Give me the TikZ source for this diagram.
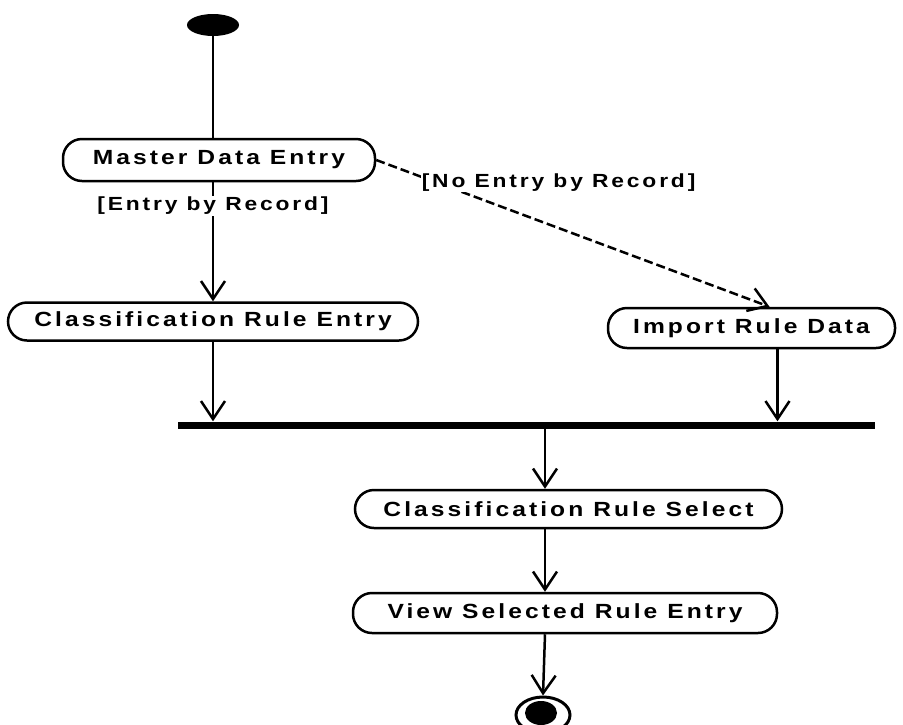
\documentclass[tikz,border=0pt]{standalone}
\usepackage{fontspec}
\newfontfamily\umlfont[FakeStretch=1.2,LetterSpace=15]{Liberation Sans}
\usetikzlibrary{arrows.meta,shapes.geometric}

\tikzset{
	action/.style={draw, line width=2.5pt, rounded corners=19pt, minimum height=40pt, inner sep=0pt, font=\umlfont\bfseries\fontsize{20.5}{24}\selectfont},
	guard/.style={font=\umlfont\bfseries\fontsize{19}{22}\selectfont, inner sep=1pt, fill=white},
	flow/.style={line width=2.5pt, -{Straight Barb[length=18pt,width=24pt]}},
}

\begin{document}
\begin{tikzpicture}[x=1pt, y=-1pt]
			%%%%% START %%%%%
			\useasboundingbox (0, 0) rectangle (903, 724);
			
			\node[ellipse, fill=black, minimum width=52pt, minimum height=22pt, inner sep=0pt] (start) at (213, 25) {};
			
			\node[action, minimum width=312pt, minimum height=42pt] (master) at (219, 160) {Master Data Entry};
			\node[action, minimum width=410pt, minimum height=38pt] (entry) at (213, 321.5) {Classification Rule Entry};
			\node[action, minimum width=287pt] (import) at (751.5, 328) {Import Rule Data};
			
			\node[fill=black, minimum width=697pt, minimum height=7pt, inner sep=0pt] (join) at (526.5, 425) {};
			
			\node[action, minimum width=427pt, minimum height=38pt] (pick) at (568.5, 509) {Classification Rule Select};
			\node[action, minimum width=424pt] (view) at (565, 613) {View Selected Rule Entry};
			
			\node[ellipse, draw, line width=3pt, minimum width=54pt, minimum height=36pt, inner sep=0pt] (done) at (543, 715) {};
			\node[ellipse, fill=black, minimum width=32pt, minimum height=24pt, inner sep=0pt] (doneDot) at (541, 713) {};
			
			\coordinate (trunk) at (545, 0);
			
			\draw[line width=2.5pt] (start.south) -- (start.south |- master.north);
			\draw[flow] (master.south -| entry.north) -- node[guard, pos=0.2] {[Entry by Record]} (entry.north);
			\draw[flow, dash pattern=on 9pt off 4pt] (master.east) -- node[guard, pos=0.11, anchor=west, yshift=-6pt] {[No Entry by Record]} ([xshift=18pt]import.north);
			
			\draw[flow] (entry.south) -- (entry.south |- join.north);
			\draw[flow] ([xshift=26pt]import.south) -- ([xshift=26pt]import.south |- join.north);
			
			\draw[flow] (join.south -| trunk) -- (pick.north -| trunk);
			\draw[flow] (pick.south -| trunk) -- (view.north -| trunk);
			\draw[flow] (view.south -| trunk) -- (done.north);
			
			%%%%% END %%%%%
\end{tikzpicture}
\end{document}
